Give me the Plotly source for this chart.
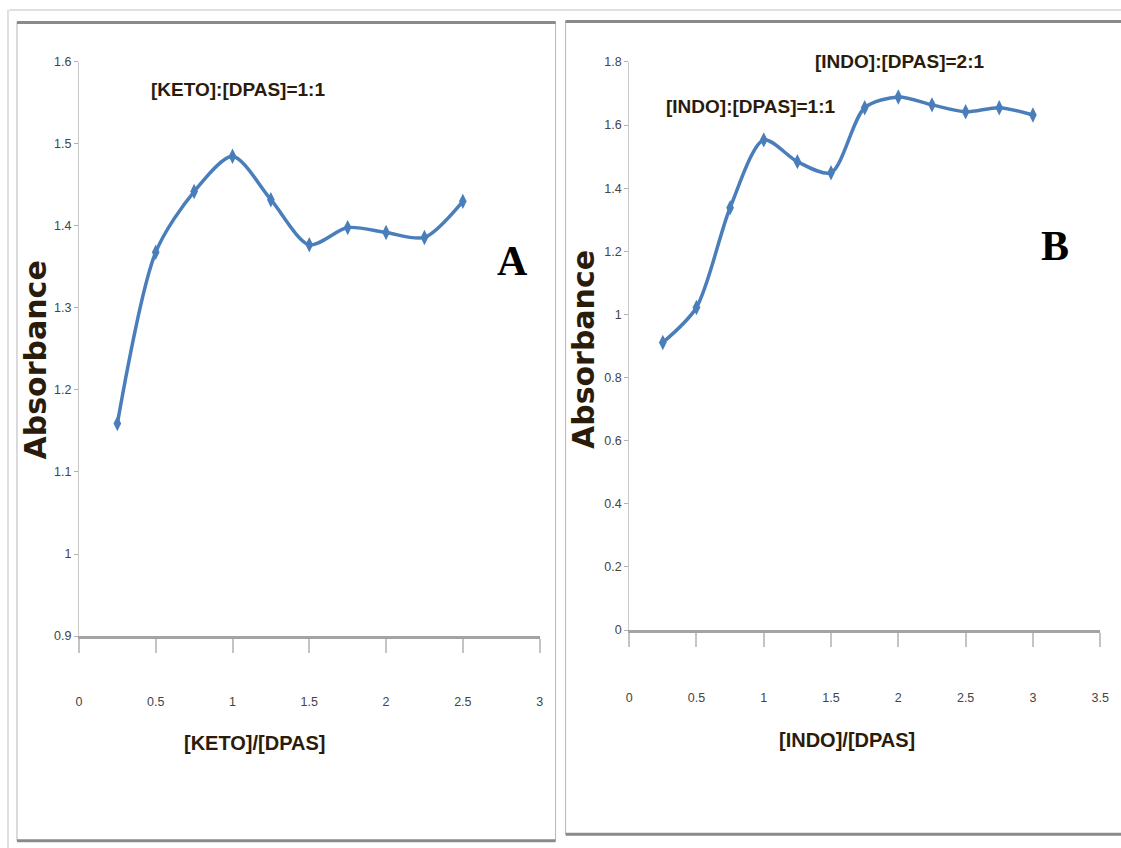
import plotly.graph_objects as go

W, H = 1121, 848

# ---- data ----
keto_x = [0.25, 0.5, 0.75, 1.0, 1.25, 1.5, 1.75, 2.0, 2.25, 2.5]
keto_abs = [1.159, 1.368, 1.442, 1.485, 1.432, 1.377, 1.398, 1.392, 1.386, 1.430]

indo_x = [0.25, 0.5, 0.75, 1.0, 1.25, 1.5, 1.75, 2.0, 2.25, 2.5, 2.75, 3.0]
indo_abs = [0.911, 1.022, 1.338, 1.553, 1.484, 1.449, 1.655, 1.689, 1.664, 1.642, 1.655, 1.632]

keto_yticks = [0.9, 1.0, 1.1, 1.2, 1.3, 1.4, 1.5, 1.6]
keto_ytext = ["0.9", "1", "1.1", "1.2", "1.3", "1.4", "1.5", "1.6"]
keto_xticks = [0, 0.5, 1, 1.5, 2, 2.5, 3]
keto_xtext = ["0", "0.5", "1", "1.5", "2", "2.5", "3"]

indo_yticks = [0, 0.2, 0.4, 0.6, 0.8, 1.0, 1.2, 1.4, 1.6, 1.8]
indo_ytext = ["0", "0.2", "0.4", "0.6", "0.8", "1", "1.2", "1.4", "1.6", "1.8"]
indo_xticks = [0, 0.5, 1, 1.5, 2, 2.5, 3, 3.5]
indo_xtext = ["0", "0.5", "1", "1.5", "2", "2.5", "3", "3.5"]

BLUE = "#4a7ebb"
DARK = "#2b1b0a"
SANS = "Liberation Sans, Arial, sans-serif"
TICKFONT = dict(family=SANS, size=12.5, color="#444444")


# map a target picture position (px) to paper coordinates
def px(x):
    return (x - 2) / 0.990 / W


def py(y):
    return 1 - (y - 7) / 0.985 / H


fig = go.Figure()

fig.add_trace(go.Scatter(
    x=keto_x, y=keto_abs, mode="lines+markers",
    line=dict(color=BLUE, width=3.5, shape="spline", smoothing=0.8),
    marker=dict(symbol="diamond-tall", size=11, color=BLUE),
    xaxis="x", yaxis="y", showlegend=False))

fig.add_trace(go.Scatter(
    x=indo_x, y=indo_abs, mode="lines+markers",
    line=dict(color=BLUE, width=3.5, shape="spline", smoothing=0.8),
    marker=dict(symbol="diamond-tall", size=11, color=BLUE),
    xaxis="x2", yaxis="y2", showlegend=False))

xaxis_common = dict(
    showgrid=False, zeroline=False, showline=True, linecolor="#a3a3a3", linewidth=3,
    ticks="outside", ticklen=14, tickcolor="#c4c4c4", tickwidth=1.5,
    tickfont=TICKFONT)
yaxis_common = dict(
    showgrid=False, zeroline=False, showline=True, linecolor="#c8c8c8", linewidth=1,
    ticks="outside", ticklen=4, tickcolor="#b0b0b0", tickwidth=1,
    tickfont=TICKFONT)

fig.update_layout(
    width=W, height=H,
    margin=dict(l=0, r=0, t=0, b=0),
    paper_bgcolor="white", plot_bgcolor="white",
    xaxis=dict(domain=[px(78), px(539)], range=[0, 3], anchor="y",
               tickvals=keto_xticks, ticktext=keto_xtext, ticklabelstandoff=38, **xaxis_common),
    yaxis=dict(domain=[py(637), py(62)], range=[0.9, 1.6], anchor="x",
               tickvals=keto_yticks, ticktext=keto_ytext, **yaxis_common),
    xaxis2=dict(domain=[px(628.6), px(1100)], range=[0, 3.5], anchor="y2",
                tickvals=indo_xticks, ticktext=indo_xtext, ticklabelstandoff=40, **xaxis_common),
    yaxis2=dict(domain=[py(631), py(62)], range=[0, 1.8], anchor="x2",
                tickvals=indo_yticks, ticktext=indo_ytext, **yaxis_common),
)

shapes = [
    dict(type="line", x0=px(8), x1=px(1140), y0=py(10), y1=py(10), line=dict(color="#c0c0c0", width=1)),
    dict(type="line", x0=px(7), x1=px(7), y0=py(10), y1=py(860), line=dict(color="#c0c0c0", width=1)),
    dict(type="rect", x0=px(16), x1=px(555), y0=py(842), y1=py(22), line=dict(color="#b5b5b5", width=1)),
    dict(type="line", x0=px(16), x1=px(555), y0=py(22.5), y1=py(22.5), line=dict(color="#8a8a8a", width=3)),
    dict(type="line", x0=px(16), x1=px(555), y0=py(842), y1=py(842), line=dict(color="#8a8a8a", width=3)),
    dict(type="rect", x0=px(565), x1=px(1140), y0=py(835), y1=py(21), line=dict(color="#b5b5b5", width=1)),
    dict(type="line", x0=px(565), x1=px(1140), y0=py(21.5), y1=py(21.5), line=dict(color="#8a8a8a", width=3)),
    dict(type="line", x0=px(565), x1=px(1140), y0=py(835.5), y1=py(835.5), line=dict(color="#8a8a8a", width=3)),
]
for s in shapes:
    s.update(xref="paper", yref="paper", layer="below")
fig.update_layout(shapes=shapes)

LABEL = dict(family=SANS, size=19, color=DARK, weight="bold")
annotations = [
    dict(text="[KETO]:[DPAS]=1:1", x=px(237), y=py(90), font=LABEL),
    dict(text="[INDO]:[DPAS]=2:1", x=px(900), y=py(62), font=LABEL),
    dict(text="[INDO]:[DPAS]=1:1", x=px(751), y=py(107), font=LABEL),
    dict(text="A", x=px(512), y=py(261), font=dict(family="Liberation Serif", size=42, color="black", weight="bold")),
    dict(text="B", x=px(1055), y=py(246), font=dict(family="Liberation Serif", size=42, color="black", weight="bold")),
    dict(text="Absorbance", x=px(34), y=py(360), textangle=-90,
         font=dict(family="DejaVu Sans", size=30, color=DARK, weight="bold")),
    dict(text="Absorbance", x=px(583), y=py(350), textangle=-90,
         font=dict(family="DejaVu Sans", size=30, color=DARK, weight="bold")),
    dict(text="[KETO]/[DPAS]", x=px(254), y=py(744), font=dict(family=SANS, size=20, color=DARK, weight="bold")),
    dict(text="[INDO]/[DPAS]", x=px(847), y=py(741), font=dict(family=SANS, size=20, color=DARK, weight="bold")),
]
for a in annotations:
    a.update(xref="paper", yref="paper", showarrow=False, xanchor="center", yanchor="middle")
fig.update_layout(annotations=annotations)

fig.write_html(
    "out.html",
    config=dict(displayModeBar=False),
    post_script=(
        "document.body.style.margin='0';"
        "document.body.style.overflow='hidden';"
    ),
)
